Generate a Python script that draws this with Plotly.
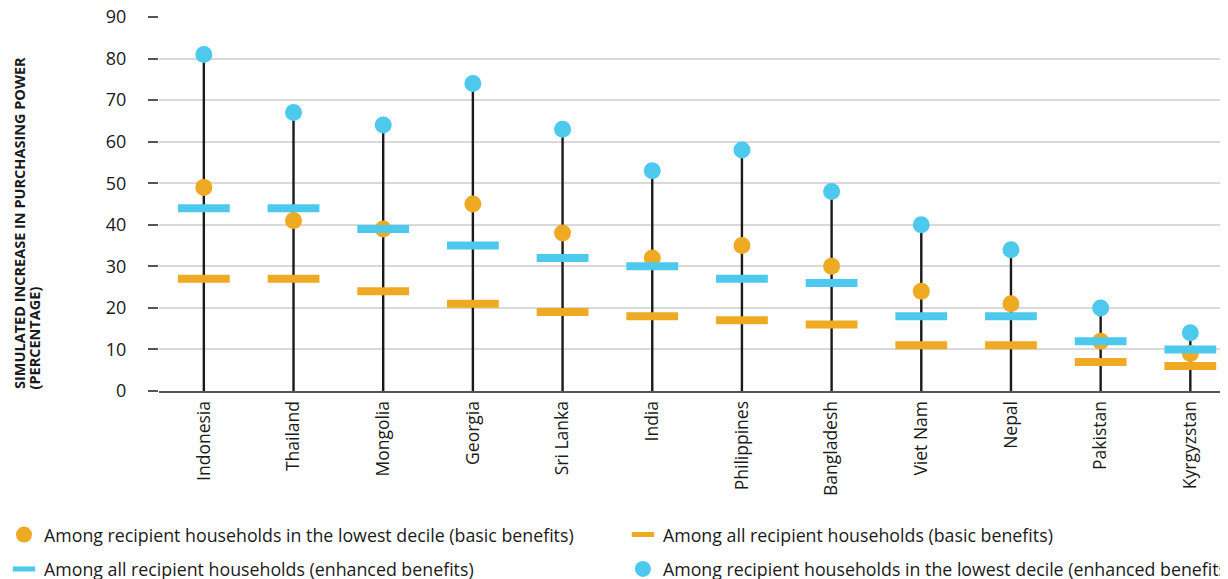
import plotly.graph_objects as go

countries = ["Indonesia", "Thailand", "Mongolia", "Georgia", "Sri Lanka", "India",
             "Philippines", "Bangladesh", "Viet Nam", "Nepal", "Pakistan", "Kyrgyzstan"]

# values (percent)
lowest_decile_basic = [49, 41, 39, 45, 38, 32, 35, 30, 24, 21, 12, 9]
all_basic = [27, 27, 24, 21, 19, 18, 17, 16, 11, 11, 7, 6]
all_enhanced = [44, 44, 39, 35, 32, 30, 27, 26, 18, 18, 12, 10]
lowest_decile_enhanced = [81, 67, 64, 74, 63, 53, 58, 48, 40, 34, 20, 14]

y_ticks = list(range(0, 91, 10))

ORANGE = "#EEAA22"
BLUE = "#4CC9EC"
FONT = "Open Sans"

fig = go.Figure()

# vertical stems from zero up to the highest value
fig.add_trace(go.Scatter(
    x=countries, y=[0] * len(countries), mode="markers",
    marker=dict(size=1, opacity=0),
    error_y=dict(type="data", symmetric=False, array=lowest_decile_enhanced,
                 arrayminus=[0] * len(countries), width=0, thickness=2.4, color="#1a1a1a"),
    showlegend=False, hoverinfo="skip",
))

fig.add_trace(go.Scatter(
    x=countries, y=lowest_decile_basic, mode="markers",
    name="Among recipient households in the lowest decile (basic benefits)",
    marker=dict(size=17, color=ORANGE), legend="legend",
))
fig.add_trace(go.Scatter(
    x=countries, y=all_basic, mode="markers",
    name="Among all recipient households (basic benefits)",
    marker=dict(symbol="line-ew", size=37, line=dict(width=8, color=ORANGE)), legend="legend2",
))
fig.add_trace(go.Scatter(
    x=countries, y=all_enhanced, mode="markers",
    name="Among all recipient households (enhanced benefits)",
    marker=dict(symbol="line-ew", size=37, line=dict(width=8, color=BLUE)), legend="legend3",
))
fig.add_trace(go.Scatter(
    x=countries, y=lowest_decile_enhanced, mode="markers",
    name="Among recipient households in the lowest decile (enhanced benefits)",
    marker=dict(size=17, color=BLUE), legend="legend4",
))

legend_common = dict(orientation="h", xanchor="left", yanchor="middle",
                     font=dict(family=FONT, size=17.8, color="#1a1a1a"),
                     itemsizing="trace", bgcolor="rgba(0,0,0,0)")

# page body adds an 8px offset, so margins are shifted to compensate
fig.update_layout(
    width=1228, height=579,
    margin=dict(l=151, r=8, t=9, b=196, autoexpand=False),
    plot_bgcolor="white", paper_bgcolor="white",
    font=dict(family=FONT, size=17.5, color="#1a1a1a"),
    xaxis=dict(
        type="category", range=[-0.5, 11.42], tickangle=-90,
        showline=True, linecolor="#555555", linewidth=2,
        showgrid=False, ticks="", ticklabelstandoff=1,
        tickfont=dict(family=FONT, size=17.5),
    ),
    yaxis=dict(
        range=[0, 90], tickvals=y_ticks, showgrid=True, gridcolor="#d9d9d9", gridwidth=1.5,
        zeroline=False, showline=False, ticks="outside", ticklen=10, tickwidth=2,
        tickcolor="#555555", ticklabelstandoff=18, tickfont=dict(family=FONT, size=18),
        ticklabeloverflow="allow",
    ),
    legend=dict(x=-0.145, y=-0.385, **legend_common),
    legend2=dict(x=0.434, y=-0.385, **legend_common),
    legend3=dict(x=-0.145, y=-0.477, **legend_common),
    legend4=dict(x=0.434, y=-0.477, **legend_common),
    annotations=[
        dict(text="SIMULATED INCREASE IN PURCHASING POWER",
             xref="paper", yref="paper", x=-0.131, y=0, xanchor="center", yanchor="bottom",
             textangle=-90, showarrow=False,
             font=dict(family=FONT, size=14.5, color="#1a1a1a", weight="bold")),
        dict(text="(PERCENTAGE)",
             xref="paper", yref="paper", x=-0.116, y=0, xanchor="center", yanchor="bottom",
             textangle=-90, showarrow=False,
             font=dict(family=FONT, size=14.5, color="#1a1a1a", weight="bold")),
    ],
)

fig.write_html("out.html")
